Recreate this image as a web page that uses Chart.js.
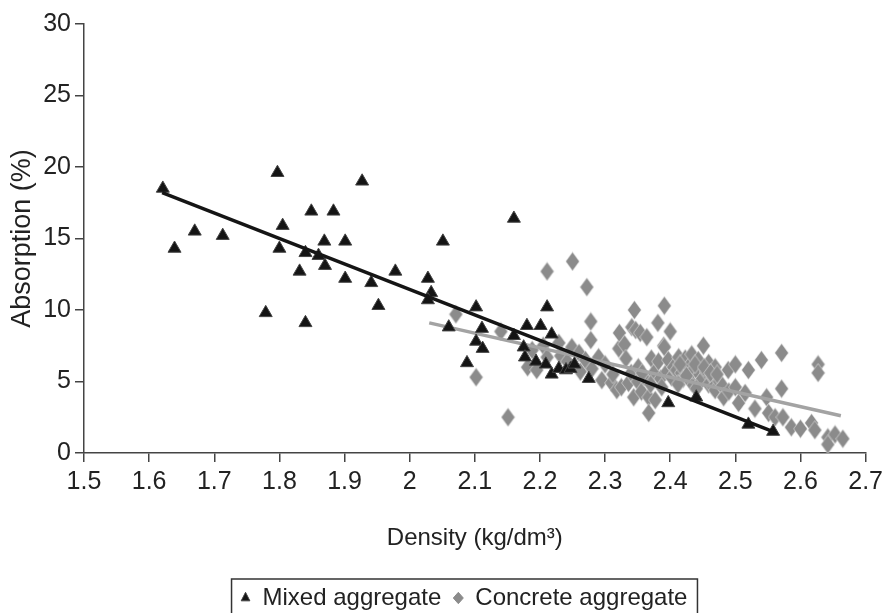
<!DOCTYPE html>
<html>
<head>
<meta charset="utf-8">
<title>Absorption vs density</title>
<script src="https://cdn.jsdelivr.net/npm/chart.js@4.4.0/dist/chart.umd.min.js"></script>
<style>
    body { margin: 0; background: #fff; }
    #wrap { width: 888px; height: 613px; }
</style>
</head>
<body>
<div id="wrap"><canvas id="absChart" width="888" height="613"></canvas></div>
<script>
// axis ranges
var xMin = 1.5, xMax = 2.7, xStep = 0.1;
var yMin = 0, yMax = 30, yStep = 5;

// mixed aggregate samples
var mixedDensity = [1.621, 1.639, 1.670, 1.713, 1.779, 1.797, 1.805, 1.800, 1.831, 1.840,
    1.840, 1.849, 1.860, 1.869, 1.870, 1.883, 1.901, 1.901, 1.927, 1.941,
    1.952, 1.978, 2.028, 2.033, 2.028, 2.051, 2.060, 2.088, 2.102, 2.102,
    2.111, 2.112, 2.160, 2.160, 2.175, 2.177, 2.180, 2.194, 2.201, 2.209,
    2.211, 2.218, 2.218, 2.229, 2.240, 2.247, 2.253, 2.275, 2.397, 2.440,
    2.520, 2.558];
var mixedAbsorption = [18.5, 14.3, 15.5, 15.2, 9.8, 19.6, 15.9, 14.3, 12.7, 14.0,
    9.1, 16.9, 13.8, 14.8, 13.1, 16.9, 14.8, 12.2, 19.0, 11.9,
    10.3, 12.7, 12.2, 11.2, 10.7, 14.8, 8.8, 6.3, 10.2, 7.8,
    8.7, 7.3, 16.4, 8.2, 7.4, 6.7, 8.9, 6.4, 8.9, 6.2,
    10.2, 8.3, 5.5, 5.9, 5.8, 5.9, 6.2, 5.2, 3.5, 3.9,
    2.0, 1.5];

// concrete aggregate samples
var concreteDensity = [2.071, 2.102, 2.140, 2.151, 2.181, 2.188, 2.195, 2.205, 2.211, 2.211,
    2.229, 2.232, 2.242, 2.249, 2.250, 2.260, 2.262, 2.270, 2.272, 2.278,
    2.278, 2.280, 2.290, 2.295, 2.300, 2.310, 2.312, 2.318, 2.321, 2.322,
    2.325, 2.330, 2.332, 2.336, 2.340, 2.341, 2.344, 2.345, 2.347, 2.350,
    2.351, 2.354, 2.356, 2.360, 2.364, 2.367, 2.367, 2.371, 2.375, 2.377,
    2.381, 2.382, 2.385, 2.387, 2.390, 2.391, 2.391, 2.395, 2.397, 2.400,
    2.402, 2.405, 2.410, 2.413, 2.417, 2.420, 2.423, 2.428, 2.433, 2.433,
    2.435, 2.443, 2.445, 2.448, 2.451, 2.455, 2.459, 2.459, 2.465, 2.466,
    2.469, 2.469, 2.475, 2.480, 2.482, 2.489, 2.490, 2.500, 2.500, 2.505,
    2.515, 2.520, 2.530, 2.540, 2.548, 2.551, 2.561, 2.571, 2.571, 2.573,
    2.586, 2.600, 2.617, 2.622, 2.627, 2.627, 2.642, 2.642, 2.653, 2.665,
    2.412, 2.415, 2.425, 2.438, 2.452, 2.462, 2.472, 2.440, 2.370, 2.357];
var concreteAbsorption = [9.7, 5.3, 8.5, 2.5, 6.0, 7.2, 5.8, 7.5, 12.7, 6.7,
    7.7, 6.8, 6.4, 7.4, 13.4, 7.0, 5.7, 6.5, 11.6, 9.2,
    7.9, 5.9, 6.7, 5.1, 6.2, 4.9, 5.5, 4.4, 7.3, 8.4,
    4.6, 7.6, 6.6, 4.9, 5.6, 8.8, 3.9, 10.0, 8.6, 5.0,
    6.0, 8.4, 4.3, 5.3, 8.1, 3.9, 2.8, 6.6, 5.6, 3.7,
    9.1, 6.4, 5.2, 4.6, 7.5, 10.3, 7.4, 5.7, 6.5, 8.5,
    5.3, 6.0, 5.8, 6.7, 5.6, 5.2, 6.6, 6.0, 6.9, 4.9,
    5.8, 6.5, 5.5, 5.1, 7.5, 5.7, 6.3, 4.8, 5.3, 4.6,
    6.0, 4.4, 5.0, 4.7, 3.9, 5.8, 4.3, 6.2, 4.6, 3.5,
    4.2, 5.8, 3.1, 6.5, 3.9, 2.8, 2.5, 7.0, 4.5, 2.5,
    1.8, 1.7, 2.1, 1.6, 6.2, 5.6, 1.1, 0.6, 1.3, 1.0,
    4.8, 6.2, 5.4, 6.2, 6.0, 5.6, 5.5, 4.5, 4.8, 5.6];

// regression lines (end points)
var mixedFitDensity = [1.62, 2.558];
var mixedFitAbsorption = [18.2, 1.5];
var concreteFitDensity = [2.03, 2.662];
var concreteFitAbsorption = [9.1, 2.6];

var fontFamily = '"Liberation Sans", Arial, Helvetica, sans-serif';
var inkColor = '#222';

function toPoints(xs, ys) {
    return xs.map(function (x, i) { return {x: x, y: ys[i]}; });
}

// tall diamond marker for the concrete series
function diamondMarker(w, h, fill) {
    var c = document.createElement('canvas');
    c.width = w;
    c.height = h;
    var g = c.getContext('2d');
    g.beginPath();
    g.moveTo(w / 2, 0.6);
    g.lineTo(w - 0.6, h / 2);
    g.lineTo(w / 2, h - 0.6);
    g.lineTo(0.6, h / 2);
    g.closePath();
    g.fillStyle = fill;
    g.fill();
    g.strokeStyle = 'rgba(255,255,255,0.6)';
    g.lineWidth = 0.8;
    g.stroke();
    return c;
}

// box around the legend, moved to sit under the plot
var legendFrame = {
    id: 'legendFrame',
    afterLayout: function (chart) {
        var lg = chart.legend;
        lg.left += 30;
        lg.right += 30;
        lg.top += 7;
        lg.bottom += 7;
    },
    afterDraw: function (chart) {
        var boxes = chart.legend.legendHitBoxes;
        if (!boxes || !boxes.length) return;
        var first = boxes[0], last = boxes[boxes.length - 1];
        var c = chart.ctx;
        c.save();
        c.strokeStyle = '#333';
        c.lineWidth = 1.5;
        var left = first.left - 9;
        var right = last.left + last.width + 10;
        c.strokeRect(left, first.top - 7, right - left, 60);
        c.restore();
    }
};

Chart.defaults.font.family = fontFamily;
Chart.defaults.color = inkColor;

var ctx = document.getElementById('absChart').getContext('2d');
var absChart = new Chart(ctx, {
    type: 'scatter',
    data: {
        datasets: [
            {
                label: 'Mixed aggregate',
                data: toPoints(mixedDensity, mixedAbsorption),
                pointStyle: 'triangle',
                pointRadius: 7.5,
                backgroundColor: '#141414',
                borderColor: '#444',
                borderWidth: 1,
                order: 1
            },
            {
                label: 'Concrete aggregate',
                data: toPoints(concreteDensity, concreteAbsorption),
                pointStyle: diamondMarker(15, 20, '#8b8b8b'),
                pointRadius: 8,
                backgroundColor: '#8b8b8b',
                borderColor: '#ffffff',
                borderWidth: 1,
                order: 3
            },
            {
                label: 'mixed fit',
                data: toPoints(mixedFitDensity, mixedFitAbsorption),
                showLine: true,
                pointRadius: 0,
                borderColor: '#151515',
                borderWidth: 3.5,
                order: 0
            },
            {
                label: 'concrete fit',
                data: toPoints(concreteFitDensity, concreteFitAbsorption),
                showLine: true,
                pointRadius: 0,
                borderColor: '#a3a3a3',
                borderWidth: 3.5,
                order: 2
            }
        ]
    },
    options: {
        responsive: false,
        animation: false,
        layout: {padding: {top: 24, right: 20, left: 0, bottom: 0}},
        plugins: {
            tooltip: {enabled: false},
            legend: {
                position: 'bottom',
                labels: {
                    filter: function (item) { return item.datasetIndex < 2; },
                    generateLabels: function (chart) {
                        var items = Chart.defaults.plugins.legend.labels.generateLabels(chart);
                        items.forEach(function (it) {
                            if (it.datasetIndex === 1) {
                                it.pointStyle = 'rectRot';
                                it.strokeStyle = '#8b8b8b';
                            }
                        });
                        return items;
                    },
                    usePointStyle: true,
                    pointStyleWidth: 10,
                    boxHeight: 8,
                    padding: 12,
                    color: inkColor,
                    font: {size: 24}
                }
            }
        },
        scales: {
            x: {
                type: 'linear',
                min: xMin,
                max: xMax,
                afterFit: function (s) {
                    var lg = s.chart.legend;
                    s.height = 613 - 453 - (lg ? lg.height : 0);
                },
                ticks: {
                    stepSize: xStep,
                    padding: 5,
                    font: {size: 25},
                    color: inkColor,
                    callback: function (v) { return String(+v.toFixed(1)); }
                },
                grid: {drawOnChartArea: false, drawTicks: true, tickLength: 9, color: '#444', lineWidth: 1.5},
                border: {display: true, color: '#444', width: 1.5},
                title: {
                    display: true,
                    text: 'Density (kg/dm³)',
                    font: {size: 24},
                    color: inkColor,
                    padding: {top: 0, bottom: 14}
                }
            },
            y: {
                type: 'linear',
                min: yMin,
                max: yMax,
                afterFit: function (s) { s.width = 84; },
                ticks: {
                    stepSize: yStep,
                    padding: 4,
                    font: {size: 25},
                    color: inkColor
                },
                grid: {drawOnChartArea: false, drawTicks: true, tickLength: 9, color: '#444', lineWidth: 1.5},
                border: {display: true, color: '#444', width: 1.5},
                title: {
                    display: true,
                    text: 'Absorption (%)',
                    font: {size: 27},
                    color: inkColor,
                    padding: {top: 6, bottom: 0}
                }
            }
        }
    },
    plugins: [legendFrame]
});
</script>
</body>
</html>
